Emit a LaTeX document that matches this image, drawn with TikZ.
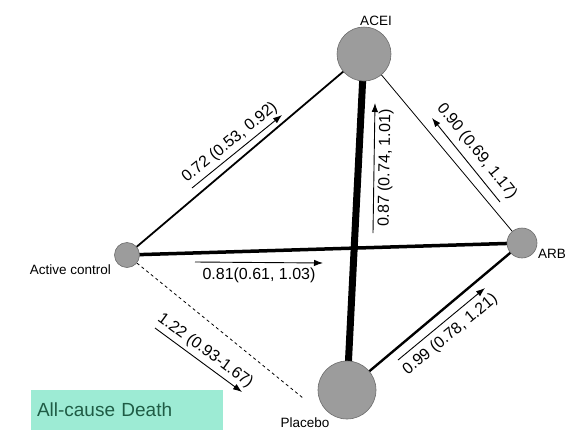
\documentclass[tikz,border=0pt]{standalone}
\usepackage{fontspec}
\setmainfont{Liberation Sans}
\usepackage{xcolor}
\usetikzlibrary{arrows.meta, positioning, backgrounds}

\definecolor{trtgray}{HTML}{9C9C9C}
\definecolor{mintfill}{HTML}{9DEBD4}
\definecolor{minttext}{HTML}{1F5C45}

\begin{document}
\begin{tikzpicture}[
  x=1pt, y=-1pt,
  trt/.style={circle, fill=trtgray, draw=gray!85!black, line width=0.6pt, inner sep=0pt},
  trtlabel/.style={font=\fontsize{13.5}{15}\selectfont, inner sep=0pt},
  est/.style={font=\fontsize{16}{18}\selectfont, inner sep=3.5pt},
  arrow/.style={line width=0.9pt, -{Latex[length=9pt,width=6.5pt]}}
]
\useasboundingbox (0,0) rectangle (576,437);

% treatments
\node (acei) [trt, minimum size=54pt] at (364,54) {};
\node (active) [trt, minimum size=25pt] at (127,255) {};
\node (arb) [trt, minimum size=30pt] at (522,243) {};
\node (placebo) [trt, minimum size=58pt] at (347,390) {};

\node (aceilbl) [trtlabel] at (376,21) {ACEI};
\node (activelbl) [trtlabel, anchor=east] at (111,270) {Active control};
\node (arblbl) [trtlabel, anchor=west] at (538,254) {ARB};
\node (placebolbl) [trtlabel] at (305,423) {Placebo};

\coordinate (dashend) at (303,398);

% network edges
\begin{scope}[on background layer]
\draw [line width=1.8pt] (active.center) -- (acei.center);
\draw [line width=3.5pt] (active.center) -- (arb.center);
\draw [line width=0.8pt, dashed] (active) -- (dashend);
\draw [line width=7pt] (acei.center) -- (placebo.center);
\draw [line width=0.8pt] (acei.center) -- (arb.center);
\draw [line width=2.4pt] (placebo.center) -- (arb.center);
\end{scope}

% estimates
\coordinate (a1s) at (192,188); \coordinate (a1e) at (282,115);
\coordinate (a2s) at (373,233); \coordinate (a2e) at (375,103);
\coordinate (a3s) at (500,202); \coordinate (a3e) at (432,118);
\coordinate (a4s) at (195,262); \coordinate (a4e) at (323,263);
\coordinate (a5s) at (155,328); \coordinate (a5e) at (242,392);
\coordinate (a6s) at (398,360); \coordinate (a6e) at (485,288);

\draw [arrow] (a1s) -- node (e1) [est, midway, above, sloped] {0.72 (0.53, 0.92)} (a1e);
\draw [arrow] (a2s) -- node (e2) [est, midway, below, sloped] {0.87 (0.74, 1.01)} (a2e);
\draw [arrow] (a3s) -- node (e3) [est, midway, above, sloped, inner sep=6pt] {0.90 (0.69, 1.17)} (a3e);
\draw [arrow] (a4s) -- node (e4) [est, midway, below, inner sep=5pt] {0.81(0.61, 1.03)} (a4e);
\draw [arrow] (a5s) -- node (e5) [est, midway, above, sloped] {1.22 (0.93-1.67)} (a5e);
\draw [arrow] (a6s) -- node (e6) [est, midway, below, sloped, inner sep=6pt] {0.99 (0.78, 1.21)} (a6e);

% outcome box
\node (outcome) [fill=mintfill, minimum width=192pt, minimum height=40pt, text width=180pt,
  font=\fontsize{19}{21}\selectfont, text=minttext, align=left] at (127,410) {All-cause Death};
\end{tikzpicture}
\end{document}
